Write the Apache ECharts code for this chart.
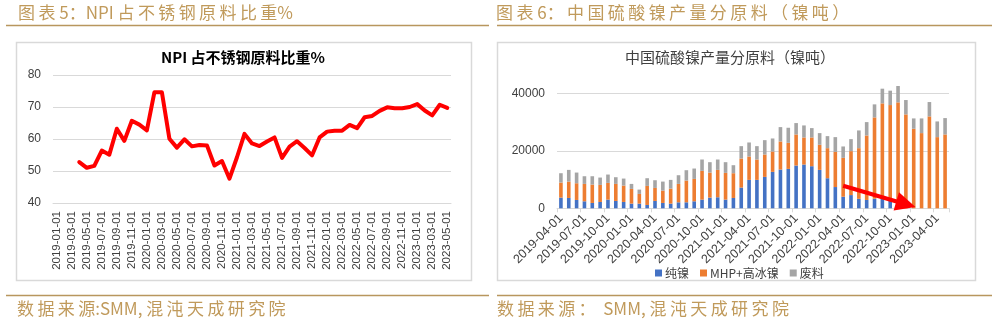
<!DOCTYPE html>
<html>
<head>
<meta charset="utf-8">
<script src="https://cdn.jsdelivr.net/npm/echarts@6/dist/echarts.min.js"></script>
<style>html,body{margin:0;padding:0;background:#fff}#c{width:994px;height:322px}</style>
</head>
<body>
<div id="c"></div>
<script>
// ---- Chart 5: NPI share of stainless steel raw materials (%) ----
var npiMonths = [];
(function(){ for (var y = 2019; y <= 2023; y++) for (var m = 1; m <= 12; m++) { if (y === 2023 && m > 5) break; npiMonths.push(y + '-' + (m < 10 ? '0' + m : m) + '-01'); } })();
var npiShare = [null, null, null,
  52.8, 51.0, 51.6, 56.4, 55.1, 63.2, 59.4, 65.7, 64.5, 62.7,
  74.6, 74.6, 60.1, 57.3, 59.9, 57.7, 58.1, 58.0, 51.7, 53.1,
  47.6, 54.3, 61.6, 58.6, 57.8, 59.2, 60.5, 54.1, 57.6, 59.3,
  57.2, 54.9, 60.5, 62.3, 62.6, 62.6, 64.4, 63.4, 66.8, 67.2,
  68.8, 69.9, 69.6, 69.6, 70.0, 70.9, 68.9, 67.4, 70.7, 69.7];

// ---- Chart 6: China nickel sulphate output by raw material (Ni t) ----
var nsMonths = npiMonths.slice(3); // 2019-04-01 .. 2023-05-01
var pureNickel = [3720, 3600, 2900, 2440, 1860, 2210, 3020, 2560, 2210, 1630,
  1630, 1160, 2560, 1860, 1630, 2090, 2090, 2440, 3020, 3720,
  3840, 3020, 3600, 7210, 9890, 9890, 10930, 12680, 13490, 13720,
  14890, 15230, 14650, 13370, 10470, 7400, 4040, 4600, 3300, 2900,
  3340, 3400, 2640, 1500, 0, 0, 0, 0, 0, 0];
var mhpMatte = [5235, 5700, 5820, 6050, 6400, 5930, 5820, 5930, 5700, 5120,
  3370, 6630, 4530, 4300, 5230, 6400, 7560, 7790, 10010, 8720,
  9530, 9310, 8610, 10120, 8140, 7090, 7790, 7090, 9770, 9070,
  10810, 9420, 10000, 8730, 10460, 12250, 13520, 15290, 17630, 22450,
  28290, 33120, 33290, 35370, 32680, 27680, 26170, 31980, 24770, 25700];
var scrap = [3255, 4070, 3720, 2670, 2900, 2560, 2910, 2330, 2440, 1740,
  1510, 2680, 2680, 3140, 3030, 3020, 3610, 3610, 3950, 3610,
  3610, 3720, 2790, 4300, 4880, 4650, 5000, 4530, 5000, 5240,
  3960, 4190, 3260, 4070, 4190, 5120, 3960, 4180, 6170, 4650,
  4540, 5110, 5010, 5690, 5000, 3600, 5110, 5000, 5460, 5700];
var seriesNames = ['纯镍', 'MHP+高冰镍', '废料'];
// red arrow annotation: [category index, value] start and end
var arrowFrom = [36, 7860];
var arrowTo = [44, 1400];

var gold = '#C09A5B';
var labelFont = 'Liberation Sans, Arial, Noto Sans CJK SC, sans-serif';
var cjkFont = 'Noto Sans CJK SC, sans-serif';
// add a thin space between consecutive wide (CJK) characters
function spaced(s) {
  var out = '';
  for (var i = 0; i < s.length; i++) {
    out += s[i];
    if (i < s.length - 1 && s.charCodeAt(i) > 255 && s.charCodeAt(i + 1) > 255) out += '\u2009';
  }
  return out;
}

var chart = echarts.init(document.getElementById('c'), null, {renderer: 'canvas'});
chart.setOption({
  animation: false,
  backgroundColor: '#ffffff',
  graphic: [
    {type: 'rect', shape: {x: 16.5, y: 42.5, width: 455, height: 238}, style: {fill: 'none', stroke: '#D9D9D9', lineWidth: 1.5}, z: 0},
    {type: 'rect', shape: {x: 497.5, y: 42.5, width: 478, height: 238}, style: {fill: 'none', stroke: '#D9D9D9', lineWidth: 1.5}, z: 0},
    {type: 'line', shape: {x1: 6, y1: 25.5, x2: 489, y2: 25.5}, style: {stroke: '#B8965E', lineWidth: 1.5}},
    {type: 'line', shape: {x1: 497, y1: 25.5, x2: 992, y2: 25.5}, style: {stroke: '#B8965E', lineWidth: 1.5}},
    {type: 'line', shape: {x1: 6, y1: 295.5, x2: 489, y2: 295.5}, style: {stroke: '#B8965E', lineWidth: 1.5}},
    {type: 'line', shape: {x1: 497, y1: 295.5, x2: 992, y2: 295.5}, style: {stroke: '#B8965E', lineWidth: 1.5}},
    {type: 'text', x: 18, y: 13, style: {text: spaced('图表 5：NPI 占不锈钢原料比重%'), fill: gold, font: '17px ' + cjkFont, textVerticalAlign: 'middle'}},
    {type: 'text', x: 496, y: 13, style: {text: spaced('图表 6：中国硫酸镍产量分原料（镍吨）'), fill: gold, font: '17px ' + cjkFont, textVerticalAlign: 'middle'}},
    {type: 'text', x: 17, y: 309, style: {text: spaced('数据来源:SMM, 混沌天成研究院'), fill: gold, font: '17px ' + cjkFont, textVerticalAlign: 'middle'}},
    {type: 'text', x: 497, y: 309, style: {text: spaced('数据来源：  SMM, 混沌天成研究院'), fill: gold, font: '17px ' + cjkFont, textVerticalAlign: 'middle'}},
    {type: 'text', x: 243, y: 57, style: {text: 'NPI 占不锈钢原料比重%', fill: '#000000', font: 'bold 15px ' + cjkFont, textAlign: 'center', textVerticalAlign: 'middle'}},
    {type: 'text', x: 730, y: 57, style: {text: '中国硫酸镍产量分原料（镍吨）', fill: '#404040', font: '15px ' + cjkFont, textAlign: 'center', textVerticalAlign: 'middle'}}
  ],
  legend: {
    data: seriesNames,
    left: 650, top: 262,
    icon: 'rect', itemWidth: 7, itemHeight: 7, itemGap: 11,
    textStyle: {fontSize: 12, color: '#404040', fontFamily: cjkFont, padding: [0, 0, 0, -2]}
  },
  grid: [
    {left: 53, top: 75, width: 398, height: 128},
    {left: 557, top: 79, width: 392, height: 129.3}
  ],
  xAxis: [
    {
      type: 'category', gridIndex: 0, data: npiMonths, boundaryGap: true,
      axisLine: {show: true, lineStyle: {color: '#D9D9D9'}},
      axisTick: {show: false},
      axisLabel: {interval: 1, rotate: 90, fontSize: 11.5, color: '#404040', fontFamily: labelFont, margin: 8}
    },
    {
      type: 'category', gridIndex: 1, data: nsMonths, boundaryGap: true,
      axisLine: {show: true, lineStyle: {color: '#D9D9D9', width: 1}},
      axisTick: {show: true, interval: 2, length: 4, lineStyle: {color: '#D9D9D9'}},
      axisLabel: {interval: 2, rotate: 45, fontSize: 12.5, color: '#404040', fontFamily: labelFont, margin: 8}
    }
  ],
  yAxis: [
    {
      type: 'value', gridIndex: 0, min: 40, max: 80, interval: 10,
      axisLine: {show: false}, axisTick: {show: false},
      splitLine: {lineStyle: {color: '#D9D9D9', width: 1}},
      axisLabel: {fontSize: 12, color: '#404040', fontFamily: labelFont, margin: 12}
    },
    {
      type: 'value', gridIndex: 1, min: 0, max: 45000, interval: 20000,
      axisLine: {show: false}, axisTick: {show: false},
      splitLine: {lineStyle: {color: '#D9D9D9', width: 1}, showMaxLine: false},
      axisLabel: {fontSize: 12, color: '#404040', fontFamily: labelFont, margin: 12, showMaxLabel: false,
        formatter: function (v) { return v > 40000 ? '' : String(v); }}
    }
  ],
  series: [
    {
      type: 'line', xAxisIndex: 0, yAxisIndex: 0, data: npiShare,
      showSymbol: false, symbol: 'none', connectNulls: false,
      lineStyle: {color: '#FF0000', width: 4, join: 'round', cap: 'round'},
      itemStyle: {color: '#FF0000'}
    },
    {
      name: seriesNames[0], type: 'bar', xAxisIndex: 1, yAxisIndex: 1, stack: 'ns', data: pureNickel,
      barWidth: '46%', itemStyle: {color: '#4472C4'},
      markLine: {
        silent: true, animation: false, symbol: ['none', 'triangle'], symbolSize: [19, 20],
        label: {show: false},
        lineStyle: {color: '#FF0000', width: 4, type: 'solid'},
        itemStyle: {color: '#FF0000'},
        z: 10,
        data: [[{coord: arrowFrom}, {coord: arrowTo}]]
      }
    },
    {
      name: seriesNames[1], type: 'bar', xAxisIndex: 1, yAxisIndex: 1, stack: 'ns', data: mhpMatte,
      barWidth: '46%', itemStyle: {color: '#ED7D31'}
    },
    {
      name: seriesNames[2], type: 'bar', xAxisIndex: 1, yAxisIndex: 1, stack: 'ns', data: scrap,
      barWidth: '46%', itemStyle: {color: '#A5A5A5'}
    }
  ]
});
</script>
</body>
</html>
